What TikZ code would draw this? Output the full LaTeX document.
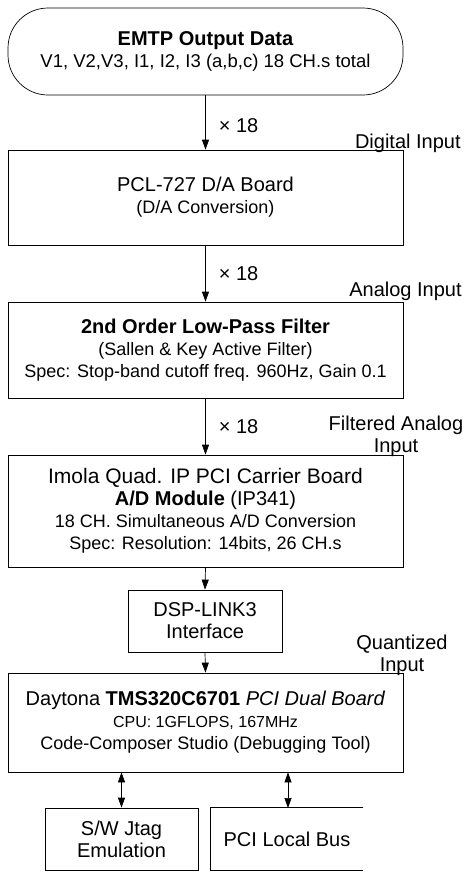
\documentclass[tikz,border=0pt]{standalone}
\usepackage{fontspec}
\setmainfont{Liberation Sans}
\usetikzlibrary{arrows.meta}
\newcommand\fTitle{\fontsize{20}{22}\selectfont}
\newcommand\fSub{\fontsize{18}{22}\selectfont}
\begin{document}
\begin{tikzpicture}[x=1pt,y=-1pt,
  line width=0.7pt,
  box/.style={draw, inner sep=0pt, align=center, font=\fSub},
  arr/.style={-{Triangle[width=7pt,length=10pt]}},
  darr/.style={{Triangle[width=7pt,length=10pt]}-{Triangle[width=7pt,length=10pt]}},
  side/.style={font=\fTitle, inner sep=0pt, align=center},
  mult/.style={font=\fTitle, inner sep=0pt, anchor=west}]
\useasboundingbox (0,0) rectangle (468,873);

\node[box, minimum width=395pt, minimum height=87pt, rounded corners=40pt] (emtp) at (205.5,51.5)
  {{\fTitle\bfseries EMTP Output Data}\\ {\fontsize{18.5}{22}\selectfont V1, V2,V3, I1, I2, I3 (a,b,c) 18 CH.s total}};

\node[box, minimum width=395pt, minimum height=95pt] (pcl) at (205.5,197.5)
  {{\fTitle PCL-727 D/A Board}\\ (D/A Conversion)};

\node[box, minimum width=395pt, minimum height=96pt] (lpf) at (205.5,350)
  {{\fTitle\bfseries 2nd Order Low-Pass Filter}\\ (Sallen \& Key Active Filter)\\ Spec: Stop-band cutoff freq. 960Hz, Gain 0.1};

\node[box, minimum width=395pt, minimum height=112pt] (adc) at (205.5,511)
  {{\fontsize{21}{22}\selectfont Imola Quad. IP PCI Carrier Board}\\ {\fTitle\textbf{A/D Module} (IP341)}\\ 18 CH. Simultaneous A/D Conversion\\ Spec: Resolution: 14bits, 26 CH.s};

\node[box, minimum width=154pt, minimum height=62pt, font=\fTitle] (dsp) at (205,621)
  {DSP-LINK3\\ Interface};

\node[box, minimum width=395pt, minimum height=99pt] (dsk) at (205.5,722.5)
  {{\fTitle Daytona \textbf{TMS320C6701} \textit{PCI Dual Board}}\\ {\fontsize{16}{22}\selectfont CPU: 1GFLOPS, 167MHz}\\ Code-Composer Studio (Debugging Tool)};

\node[box, minimum width=153pt, minimum height=62pt, font=\fTitle] (jtag) at (121.5,839)
  {S/W Jtag\\ Emulation};

\node[inner sep=0pt, minimum width=152pt, minimum height=62pt, font=\fTitle, xshift=-2pt] (pci) at (289,839)
  {PCI Local Bus};
\draw (pci.north east) -- (pci.north west) -- (pci.south west) -- (pci.south east);

% connectors
\draw[arr] (emtp.south) -- node[mult, pos=0.55, xshift=13pt] (m1) {× 18} (pcl.north);
\draw[arr] (pcl.south) -- node[mult, pos=0.5, xshift=13pt] (m2) {× 18} (lpf.north);
\draw[arr] (lpf.south) -- node[mult, pos=0.5, xshift=13pt] (m3) {× 18} (adc.north);
\draw[arr] (adc.south) -- (dsp.north);
\draw[arr] (dsp.south) -- (dsk.north);
\draw[darr] (jtag.north |- dsk.south) -- (jtag.north);
\coordinate (pcitop) at (288,808);
\draw[darr] (pcitop |- dsk.south) -- (pcitop);

% side labels
\node[side, anchor=east] (l1) at (461,143) {Digital Input};
\node[side, anchor=east] (l2) at (462,291) {Analog Input};
\node[side] (l3) at (396,436) {Filtered Analog\\ Input};
\node[side] (l4) at (402,655) {Quantized\\ Input};
\end{tikzpicture}
\end{document}
